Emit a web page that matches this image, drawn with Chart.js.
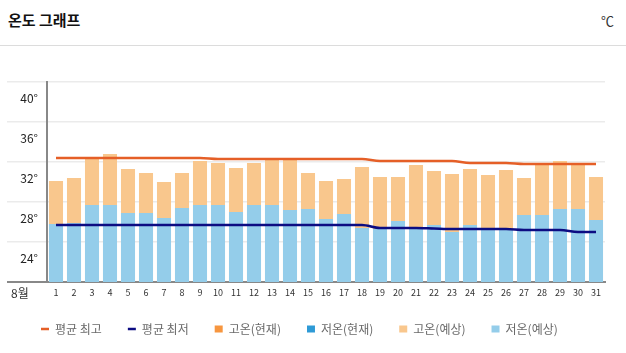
<!DOCTYPE html>
<html>
<head>
<meta charset="utf-8">
<script src="https://cdn.jsdelivr.net/npm/chart.js@4"></script>
<style>
  html, body { margin: 0; padding: 0; background: #fff; overflow: hidden; }
  body { width: 626px; height: 353px; position: relative; font-family: "Noto Sans CJK KR", "Noto Sans", sans-serif; }
  .head { position: absolute; left: 0; top: 0; width: 626px; height: 45px; border-bottom: 1px solid #dcdcdc; }
  .title { position: absolute; left: 8px; top: 9px; font-size: 15px; font-weight: bold; color: #111; }
  .unit { position: absolute; left: 601px; top: 11px; font-size: 13px; color: #333; }
  .wrap { position: absolute; left: 0; top: 46px; }
</style>
</head>
<body>
<div class="head">
  <div class="title">온도 그래프</div>
  <div class="unit">℃</div>
</div>
<div class="wrap"><canvas id="myChart" width="626" height="300"></canvas></div>
<script>
var days = ['1','2','3','4','5','6','7','8','9','10','11','12','13','14','15','16',
  '17','18','19','20','21','22','23','24','25','26','27','28','29','30','31'];
var monthLabel = '8월';

var avgHigh = [32.4, 32.4, 32.4, 32.4, 32.4, 32.4, 32.4, 32.4, 32.4, 32.3, 32.3, 32.3, 32.3, 32.3, 32.3, 32.3,
  32.3, 32.3, 32.1, 32.1, 32.1, 32.1, 32.1, 31.9, 31.9, 31.9, 31.8, 31.8, 31.8, 31.8, 31.8];
var avgLow = [25.7, 25.7, 25.7, 25.7, 25.7, 25.7, 25.7, 25.7, 25.7, 25.7, 25.7, 25.7, 25.7, 25.7, 25.7, 25.7,
  25.7, 25.7, 25.4, 25.4, 25.4, 25.35, 25.3, 25.3, 25.3, 25.3, 25.2, 25.2, 25.2, 25.0, 25.0];
var highNow = [];
var lowNow = [];
var highForecast = [30.1, 30.4, 32.4, 32.8, 31.3, 30.9, 30.0, 30.9, 32.1, 31.9, 31.4, 31.9, 32.4, 32.3, 30.9, 30.1,
  30.3, 31.5, 30.5, 30.5, 31.7, 31.1, 30.8, 31.3, 30.7, 31.2, 30.4, 31.7, 32.1, 31.8, 30.5];
var lowForecast = [25.8, 25.9, 27.7, 27.7, 26.9, 26.9, 26.4, 27.4, 27.7, 27.7, 27.0, 27.7, 27.7, 27.2, 27.3, 26.3,
  26.8, 25.4, 25.3, 26.1, 25.3, 25.7, 25.0, 25.7, 25.3, 25.3, 26.7, 26.7, 27.3, 27.3, 26.2];
var yTicks = [24, 28, 32, 36, 40];

var krFont = '"Noto Sans CJK KR", "Noto Sans", sans-serif';

// "8월" sits left of the day labels
var monthPlugin = {
  id: 'monthLabel',
  afterDraw: function (chart) {
    var c = chart.ctx;
    c.save();
    c.font = '12px ' + krFont;
    c.fillStyle = '#333';
    c.textAlign = 'left';
    c.textBaseline = 'middle';
    c.fillText(monthLabel, chart.chartArea.left - 36, chart.chartArea.bottom + 11);
    c.restore();
  }
};

var ctx = document.getElementById('myChart').getContext('2d');
var myChart = new Chart(ctx, {
  type: 'bar',
  data: {
    labels: days,
    datasets: [{
      type: 'line',
      label: '평균 최고',
      data: avgHigh,
      borderColor: '#e55f27',
      backgroundColor: '#e55f27',
      borderWidth: 2.5,
      pointRadius: 0,
      pointStyle: 'line',
      cubicInterpolationMode: 'monotone',
      order: 0
    }, {
      type: 'line',
      label: '평균 최저',
      data: avgLow,
      borderColor: '#0c0c82',
      backgroundColor: '#0c0c82',
      borderWidth: 2.5,
      pointRadius: 0,
      pointStyle: 'line',
      cubicInterpolationMode: 'monotone',
      order: 0
    }, {
      label: '고온(현재)',
      data: highNow,
      backgroundColor: '#f7963f',
      pointStyle: 'rect',
      grouped: false,
      order: 1
    }, {
      label: '저온(현재)',
      data: lowNow,
      backgroundColor: '#2e9ad6',
      pointStyle: 'rect',
      grouped: false,
      order: 1
    }, {
      label: '고온(예상)',
      data: highForecast,
      backgroundColor: '#f9c78d',
      pointStyle: 'rect',
      grouped: false,
      order: 2
    }, {
      label: '저온(예상)',
      data: lowForecast,
      backgroundColor: '#94cdea',
      pointStyle: 'rect',
      grouped: false,
      order: 1
    }]
  },
  options: {
    responsive: false,
    animation: false,
    barPercentage: 0.78,
    categoryPercentage: 1,
    layout: { padding: { left: 15, right: 21, top: 36, bottom: 1 } },
    scales: {
      x: {
        z: 1,
        afterFit: function (scale) { scale.height = 15; },
        grid: { display: false, drawTicks: false },
        border: { display: true, color: '#888', width: 2 },
        ticks: {
          padding: 5,
          maxRotation: 0,
          autoSkip: false,
          color: '#333',
          font: { size: 9, family: krFont }
        }
      },
      y: {
        min: 20,
        max: 40,
        afterFit: function (scale) { scale.width = 32; },
        afterBuildTicks: function (scale) {
          scale.ticks = [20].concat(yTicks).map(function (v) { return { value: v }; });
        },
        grid: {
          color: function (c) { return c.tick && c.tick.value === 20 ? '#888' : '#ebebeb'; },
          lineWidth: function (c) { return c.tick && c.tick.value === 20 ? 2 : 1.5; },
          tickLength: 40
        },
        border: { display: true, color: '#888', width: 2 },
        ticks: {
          padding: -31,
          labelOffset: 16,
          color: '#222',
          font: { size: 12, family: krFont },
          callback: function (v) { return yTicks.indexOf(v) < 0 ? '' : v + '°'; }
        }
      }
    },
    plugins: {
      tooltip: { enabled: false },
      legend: {
        position: 'bottom',
        align: 'start',
        labels: {
          usePointStyle: true,
          pointStyleWidth: 8,
          boxWidth: 7,
          boxHeight: 7,
          padding: 26,
          color: '#6a6a6a',
          font: { size: 12, family: krFont },
          sort: function (a, b) { return a.datasetIndex - b.datasetIndex; }
        }
      }
    }
  },
  plugins: [monthPlugin]
});
</script>
</body>
</html>
